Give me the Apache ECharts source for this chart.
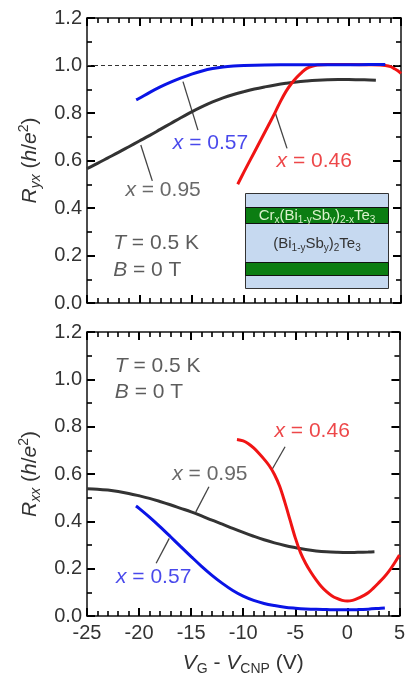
<!DOCTYPE html>
<html><head><meta charset="utf-8">
<script src="https://cdn.jsdelivr.net/npm/echarts@6/dist/echarts.min.js"></script>
<style>html,body{margin:0;padding:0;background:#fff}#c{width:408px;height:678px}</style>
</head><body><div id="c"></div>
<script>
const FONT = '"Liberation Sans", Arial, Helvetica, sans-serif';

// ---------- Top panel: R_yx ----------
const ryxBlackX = [-25,-24,-23,-22,-21,-20,-19,-18,-17,-16,-15,-14,-13,-12,-11,-10,-9,-8,-7,-6,-5,-4,-3,-2,-1,0,1,2,2.6];
const ryxBlackY = [0.566,0.588,0.611,0.634,0.658,0.682,0.706,0.731,0.756,0.781,0.805,0.827,0.847,0.864,0.878,0.89,0.901,0.91,0.918,0.925,0.931,0.935,0.938,0.94,0.941,0.941,0.94,0.939,0.938];
const ryxBlueX = [-20.3,-20,-19,-18,-17,-16,-15,-14,-13,-12,-11,-10,-8,-5,-2,0,2,3.5];
const ryxBlueY = [0.855,0.862,0.887,0.91,0.93,0.948,0.964,0.977,0.987,0.994,0.998,1.0,1.002,1.003,1.003,1.003,1.004,1.004];
const ryxRedX = [-10.6,-10,-9,-8.5,-8,-7.5,-7,-6.5,-6,-5.5,-5,-4.5,-4,-3.5,-3,-2,0,2,3,3.5,4,4.3,4.7,5];
const ryxRedY = [0.5,0.552,0.636,0.678,0.72,0.762,0.805,0.85,0.89,0.922,0.948,0.97,0.988,0.997,1.002,1.004,1.004,1.003,1.002,1.0,0.995,0.988,0.978,0.966];
const quantumLevelX = [-25, 5];
const quantumLevelY = [1.0, 1.0];

// ---------- Bottom panel: R_xx ----------
const rxxBlackX = [-25,-24,-23,-22,-21,-20,-19,-18,-17,-16,-15,-14,-13,-12,-11,-10,-9,-8,-7,-6,-5,-4,-3,-2,-1,0,1,2,2.6];
const rxxBlackY = [0.538,0.536,0.532,0.526,0.518,0.508,0.497,0.484,0.47,0.455,0.44,0.423,0.405,0.388,0.37,0.353,0.337,0.322,0.309,0.298,0.289,0.281,0.275,0.271,0.269,0.268,0.269,0.27,0.271];
const rxxBlueX = [-20.3,-20,-19,-18,-17,-16,-15,-14,-13,-12,-11,-10,-9,-8,-7,-6,-5,-4,-3,-2,-1,0,1,2,3,3.6];
const rxxBlueY = [0.465,0.455,0.418,0.378,0.336,0.293,0.251,0.21,0.172,0.138,0.108,0.084,0.066,0.053,0.044,0.037,0.033,0.03,0.028,0.027,0.026,0.026,0.027,0.029,0.032,0.034];
const rxxRedX = [-10.6,-10,-9.5,-9,-8.5,-8,-7.5,-7,-6.5,-6,-5.5,-5,-4.5,-4,-3.5,-3,-2.5,-2,-1.5,-1,-0.5,0,0.5,1,1.5,2,2.5,3,3.5,4,4.5,5];
const rxxRedY = [0.746,0.74,0.728,0.71,0.688,0.663,0.635,0.598,0.548,0.48,0.405,0.33,0.268,0.222,0.185,0.153,0.125,0.103,0.086,0.074,0.066,0.063,0.066,0.074,0.085,0.098,0.118,0.14,0.163,0.19,0.222,0.258];

// ---------- Annotations (data coordinates) ----------
const topLabels = [
  {text:'x = 0.57', x:-13.2, y:0.672, color:'#1a1ae6'},
  {text:'x = 0.46', x:-3.29, y:0.599, color:'#e8191b'},
  {text:'x = 0.95', x:-17.73, y:0.476, color:'#444444'}
];
const topLeaders = [
  {pts:[[-15.83,0.932],[-14.4,0.728]]},
  {pts:[[-19.86,0.665],[-18.76,0.514]]},
  {pts:[[-7.0,0.799],[-5.89,0.651]]}
];
const bottomLabels = [
  {text:'x = 0.46', x:-3.38, y:0.779, color:'#e8191b'},
  {text:'x = 0.95', x:-13.2, y:0.6, color:'#444444'},
  {text:'x = 0.57', x:-18.6, y:0.166, color:'#1a1ae6'}
];
const bottomLeaders = [
  {pts:[[-14.55,0.44],[-13.29,0.546]]},
  {pts:[[-7.26,0.617],[-5.98,0.715]]},
  {pts:[[-17.1,0.328],[-18.36,0.223]]}
];
const condTop = [{text:'T = 0.5 K', x:-22.5, y:0.253},{text:'B = 0 T', x:-22.5, y:0.139}];
const condBottom = [{text:'T = 0.5 K', x:-22.33, y:1.057},{text:'B = 0 T', x:-22.33, y:0.944}];

const xTicks = [-25,-20,-15,-10,-5,0,5];
const yTicks = [0,0.2,0.4,0.6,0.8,1.0,1.2];

const zip = (xs, ys) => xs.map((x,i)=>[x, ys[i]]);
const AX = '#000000';

function xAx(grid, pos, labels, name) {
  const o = {
    gridIndex: grid, type:'value', position: pos, min: xTicks[0], max: xTicks[xTicks.length-1], interval: 5,
    axisLine:{show:true, onZero:false, lineStyle:{color:'#111', width:1.5}},
    axisTick:{show:true, inside:true, length:8, lineStyle:{color:AX, width:2}},
    minorTick:{show:true, splitNumber:5, length:5, lineStyle:{color:AX, width:1.6}},
    splitLine:{show:false},
    axisLabel:{show:labels, margin:7, fontSize:20, color:'#333', fontFamily:FONT}
  };
  if (name) {
    o.name = name; o.nameLocation = 'middle'; o.nameGap = 34;
    o.nameTextStyle = {fontSize:21, color:'#333', fontFamily:FONT,
      rich:{i:{fontStyle:'italic', fontSize:21, fontFamily:FONT, color:'#333'},
            sub:{fontSize:14, fontFamily:FONT, color:'#333', verticalAlign:'bottom', lineHeight:26}}};
  }
  return o;
}
function yAx(grid, pos, labels, name) {
  const o = {
    gridIndex: grid, type:'value', position: pos, min: yTicks[0], max: yTicks[yTicks.length-1], interval: 0.2,
    axisLine:{show:true, onZero:false, lineStyle:{color:'#111', width:1.5}},
    axisTick:{show:true, inside:true, length:8, lineStyle:{color:AX, width:2}},
    minorTick:{show:true, splitNumber:2, length:5, lineStyle:{color:AX, width:1.6}},
    splitLine:{show:false},
    axisLabel:{show:labels, margin:5, fontSize:20, color:'#333', fontFamily:FONT, formatter: v => v.toFixed(1)}
  };
  if (name) {
    o.name = name; o.nameLocation = 'middle'; o.nameGap = 44;
    o.nameTextStyle = {fontSize:21, color:'#333', fontFamily:FONT,
      rich:{i:{fontStyle:'italic', fontSize:21, fontFamily:FONT, color:'#333'},
            sub:{fontSize:14, fontStyle:'italic', fontFamily:FONT, color:'#333', verticalAlign:'bottom', lineHeight:26},
            sup:{fontSize:14, fontFamily:FONT, color:'#333', verticalAlign:'top', lineHeight:26}}};
  }
  return o;
}

function curve(xi, yi, xs, ys, color, z) {
  return {type:'line', xAxisIndex:xi, yAxisIndex:yi, data:zip(xs, ys), showSymbol:false, symbol:'none',
    smooth:0.35, lineStyle:{color:color, width:3}, z: z||3, silent:true};
}
function leader(xi, yi, pts) {
  return {type:'line', xAxisIndex:xi, yAxisIndex:yi, data:pts, showSymbol:false, symbol:'none',
    lineStyle:{color:'#444', width:1.3}, z:2, silent:true};
}
function labelSeries(xi, yi, items, align) {
  return {type:'scatter', xAxisIndex:xi, yAxisIndex:yi, symbolSize:0, silent:true, z:5,
    itemStyle:{color:'transparent'},
    data: items.map(it => ({value:[it.x, it.y], label:{
      show:true, position:'inside', align: align || 'center', verticalAlign:'middle',
      color: it.color || '#333', fontSize:21, fontFamily:FONT,
      formatter: it.text.replace(/^([xTB])/, '{i|$1}'), rich: {i:{fontStyle:'italic', fontSize:21, fontFamily:FONT, color: it.color || '#333'}}
    }}))
  };
}

const series = [
  {type:'line', xAxisIndex:0, yAxisIndex:0, data:zip(quantumLevelX, quantumLevelY), showSymbol:false, symbol:'none',
   lineStyle:{color:'#333', width:1, type:[4,3]}, z:1, silent:true},
  curve(0,0, ryxBlackX, ryxBlackY, '#333333'),
  curve(0,0, ryxRedX, ryxRedY, '#f01414'),
  curve(0,0, ryxBlueX, ryxBlueY, '#0a14e6', 4),
  ...topLeaders.map(l => leader(0,0,l.pts)),
  labelSeries(0,0, topLabels),
  labelSeries(0,0, condTop, 'left'),
  curve(2,2, rxxBlackX, rxxBlackY, '#333333'),
  curve(2,2, rxxBlueX, rxxBlueY, '#0a14e6'),
  curve(2,2, rxxRedX, rxxRedY, '#f01414', 4),
  ...bottomLeaders.map(l => leader(2,2,l.pts)),
  labelSeries(2,2, bottomLabels),
  labelSeries(2,2, condBottom, 'left')
];

const LB = '#c6d9f0', GR = '#0b7d12';
const inset = {type:'group', left:245, top:193, z:10, children:[
  {type:'rect', shape:{x:0,y:0,width:143,height:95}, style:{fill:LB, stroke:'#333', lineWidth:1}},
  {type:'rect', shape:{x:0,y:14,width:143,height:16}, style:{fill:GR, stroke:'#111', lineWidth:1}},
  {type:'rect', shape:{x:0,y:69,width:143,height:13}, style:{fill:GR, stroke:'#111', lineWidth:1}},
  {type:'text', x:71.5, y:22, style:{text:'Cr{s|x}(Bi{s|1-y}Sb{s|y}){s|2-x}Te{s|3}', fill:'#d9f2cc', fontSize:15, fontFamily:FONT,
     align:'center', verticalAlign:'middle', rich:{s:{fontSize:10, fontFamily:FONT, fill:'#d9f2cc', verticalAlign:'bottom', lineHeight:20}}}},
  {type:'text', x:71.5, y:50, style:{text:'(Bi{s|1-y}Sb{s|y}){s|2}Te{s|3}', fill:'#333', fontSize:15, fontFamily:FONT,
     align:'center', verticalAlign:'middle', rich:{s:{fontSize:10, fontFamily:FONT, fill:'#333', verticalAlign:'bottom', lineHeight:20}}}}
]};

const option = {
  animation:false,
  grid:[{left:87, top:18, width:314, height:285},{left:87, top:332, width:314, height:284}],
  xAxis:[xAx(0,'bottom',false), xAx(0,'top',false), xAx(1,'bottom',true,'{i|V}{sub|G} - {i|V}{sub|CNP} (V)'), xAx(1,'top',false)],
  yAxis:[yAx(0,'left',true,'{i|R}{sub|yx} ({i|h}/{i|e}{sup|2})'), yAx(0,'right',false), yAx(1,'left',true,'{i|R}{sub|xx} ({i|h}/{i|e}{sup|2})'), yAx(1,'right',false)],
  series: series,
  graphic:[inset]
};
const chart = echarts.init(document.getElementById('c'), null, {renderer:'canvas'});
chart.setOption(option);
</script></body></html>
